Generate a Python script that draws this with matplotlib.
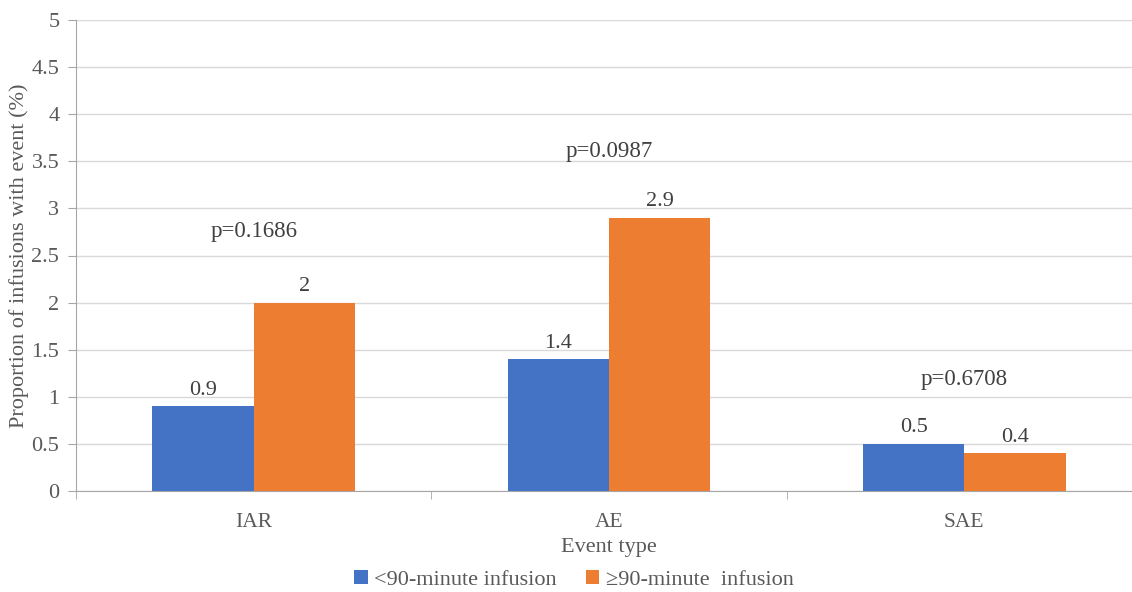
import numpy as np
import matplotlib.pyplot as plt
from matplotlib.ticker import FixedLocator

plt.rcParams['font.family'] = ['Liberation Serif', 'DejaVu Serif']

categories = ['IAR', 'AE', 'SAE']
short_inf = [0.9, 1.4, 0.5]
long_inf = [2.0, 2.9, 0.4]
p_labels = ['p=0.1686', 'p=0.0987', 'p=0.6708']
p_heights = [2.75, 3.6, 1.18]
y_ticks = [0, 0.5, 1, 1.5, 2, 2.5, 3, 3.5, 4, 4.5, 5]
series_names = ['<90-minute infusion', '\u226590-minute  infusion']

txt = '#595959'
fig = plt.figure(figsize=(11.32, 5.92), dpi=100)
ax = fig.add_axes([76 / 1132, 1 - 491 / 592, 1066 / 1132, 471 / 592])

x = np.arange(len(categories))
w = 0.285
b1 = ax.bar(x - w / 2, short_inf, w, color='#4472C4', label=series_names[0], zorder=3)
b2 = ax.bar(x + w / 2, long_inf, w, color='#ED7D31', label=series_names[1], zorder=3)

# value labels on top of each bar
for bars, vals in ((b1, short_inf), (b2, long_inf)):
    for bar, v in zip(bars, vals):
        ax.text(bar.get_x() + bar.get_width() / 2, v + 0.07, f'{v:g}',
                ha='center', va='bottom', fontsize=16, color='#404040')

for xi, lab, h in zip(x, p_labels, p_heights):
    ax.text(xi, h, lab, ha='center', va='center', fontsize=16.5, color='#404040')

ax.set_xlim(-0.5, len(categories) - 0.5)
ax.set_ylim(0, 5)
ax.set_yticks(y_ticks)
ax.set_yticklabels([f'{v:g}' for v in y_ticks])
ax.grid(axis='y', color='#D9D9D9', linewidth=1, zorder=0)

ax.set_xticks(x)
ax.set_xticklabels(categories)
# separator ticks between categories
ax.xaxis.set_minor_locator(FixedLocator(np.arange(-0.5, len(categories), 1)))
ax.tick_params(axis='x', which='major', length=0, pad=16, labelsize=15.5, labelcolor=txt)
ax.tick_params(axis='x', which='minor', length=6, color='#A6A6A6', direction='out')
ax.tick_params(axis='y', length=6, color='#A6A6A6', labelsize=16, labelcolor=txt, pad=6)

for s in ('top', 'right'):
    ax.spines[s].set_visible(False)
ax.spines['left'].set_color('#A6A6A6')
ax.spines['bottom'].set_color('#A6A6A6')

ax.set_xlabel('Event type', fontsize=16, color=txt, labelpad=4)
ax.set_ylabel('Proportion of infusions with event (%)', fontsize=16, color=txt, labelpad=2)

fig.legend(loc='center', bbox_to_anchor=(0.507, 0.02), ncol=2, frameon=False,
           fontsize=16, handlelength=0.6, handleheight=0.6, handletextpad=0.3,
           columnspacing=1.3, labelcolor=txt)

fig.savefig('out.png', dpi=100)
